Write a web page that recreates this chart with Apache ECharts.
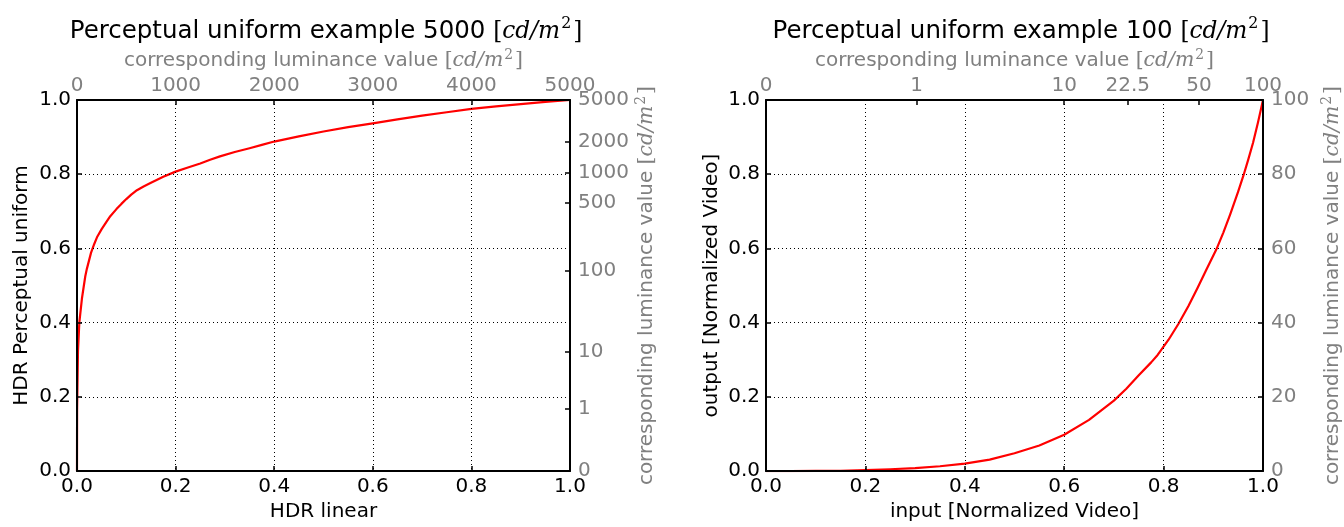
<!DOCTYPE html>
<html>
<head>
<meta charset="utf-8">
<script src="https://cdn.jsdelivr.net/npm/echarts@6/dist/echarts.min.js"></script>
<style>html,body{margin:0;padding:0;background:#fff}#c{width:1344px;height:527px}</style>
</head>
<body>
<div id="c"></div>
<script>
// ---- Data ----
const leftX = [0, 0.0002, 0.002, 0.0047, 0.01, 0.0168, 0.02, 0.0284, 0.035, 0.0405, 0.05, 0.06, 0.0675, 0.08, 0.09, 0.1, 0.11, 0.1216, 0.135, 0.15, 0.175, 0.2, 0.225, 0.25, 0.27, 0.29, 0.32, 0.35, 0.375, 0.4, 0.45, 0.5, 0.55, 0.6, 0.65, 0.7, 0.75, 0.8, 0.85, 0.9, 0.95, 1.0];
const leftY = [0, 0.165, 0.323, 0.40, 0.465, 0.525, 0.545, 0.588, 0.612, 0.630, 0.652, 0.672, 0.687, 0.706, 0.720, 0.733, 0.745, 0.757, 0.767, 0.777, 0.793, 0.807, 0.818, 0.829, 0.839, 0.848, 0.860, 0.870, 0.879, 0.888, 0.902, 0.915, 0.927, 0.937, 0.948, 0.958, 0.967, 0.976, 0.983, 0.989, 0.995, 1.0];

const rightX = [0, 0.05, 0.1, 0.15, 0.2, 0.25, 0.3, 0.35, 0.4, 0.45, 0.5, 0.55, 0.6, 0.65, 0.7, 0.725, 0.75, 0.775, 0.788, 0.81, 0.83, 0.85, 0.868, 0.885, 0.906, 0.92, 0.934, 0.95, 0.961, 0.97, 0.98, 0.99, 1.0];
const rightY = [0, 0.0001, 0.0004, 0.001, 0.0025, 0.005, 0.008, 0.013, 0.02, 0.031, 0.048, 0.069, 0.098, 0.138, 0.19, 0.222, 0.258, 0.293, 0.313, 0.354, 0.397, 0.445, 0.493, 0.54, 0.597, 0.642, 0.692, 0.753, 0.798, 0.838, 0.885, 0.94, 1.0];

// Tick labels
const leftLumLabels = ['0', '1', '10', '100', '500', '1000', '2000', '5000'];
const leftLumPos = [0, 0.167, 0.321, 0.541, 0.722, 0.805, 0.888, 1.0];
const rightLumLabels = ['0', '1', '10', '22.5', '50', '100'];
const rightLumPos = [0, 0.303, 0.6, 0.728, 0.871, 1.0];

const titles = ['Perceptual uniform example 5000', 'Perceptual uniform example 100'];
const lumName = 'corresponding luminance value';

// ---- Styling helpers ----
const FONT = 'DejaVu Sans';
const FS = 20;
const GRAY = '#808080';
const mathRich = (size, color, mf) => ({
  t: { fontFamily: FONT, fontSize: size, color: color, lineHeight: size * 1.3, verticalAlign: 'middle' },
  m: { fontFamily: 'DejaVu Serif', fontSize: size * mf, color: color, lineHeight: size * 1.3, verticalAlign: 'middle' },
  i: { fontFamily: 'DejaVu Serif', fontStyle: 'italic', fontSize: size * mf, color: color, lineHeight: size * 1.3, verticalAlign: 'middle' },
  s: { fontFamily: 'DejaVu Serif', fontSize: size * 0.68 * mf, color: color, lineHeight: size * 0.7, verticalAlign: 'top', padding: [0, 2, 0, 1] }
});
const mathText = (txt) => '{t|' + txt + ' }{m|[}{i|cd/m}{s|2}{m|]}';

function lookup(pos, labels) {
  return function (v) {
    let best = 0, bd = 1e9;
    for (let k = 0; k < pos.length; k++) { const d = Math.abs(pos[k] - v); if (d < bd) { bd = d; best = k; } }
    return labels[best];
  };
}

const axisLine = { show: true, onZero: false, lineStyle: { color: '#000', width: 2 } };
const tick = { show: true, inside: true, length: 5, lineStyle: { color: '#000', width: 1.5 } };
const grid = { show: true, lineStyle: { color: '#000', width: 1, type: [1, 3] } };

function baseAxis(extra) {
  return Object.assign({
    type: 'value', z: 5,
    axisLine: axisLine, axisTick: tick,
    splitLine: { show: false },
    nameLocation: 'middle'
  }, extra);
}

const blackLabel = (margin, fmt) => ({ color: '#000', fontFamily: FONT, fontSize: FS, margin: margin, formatter: fmt });
const grayLabel = (margin, fmt, extra) => Object.assign({ color: GRAY, fontFamily: FONT, fontSize: FS, margin: margin, formatter: fmt }, extra || {});
const fix1 = v => v.toFixed(1);
const blackName = { fontFamily: FONT, fontSize: FS, color: '#000' };
const grayName = { fontFamily: FONT, fontSize: FS, color: GRAY, rich: mathRich(FS, GRAY, 1.02) };
const titleStyle = { fontFamily: FONT, fontSize: 24.5, fontWeight: 'normal', color: '#000', rich: mathRich(24.5, '#000', 0.95) };

const option = {
  animation: false,
  backgroundColor: '#fff',
  title: [
    { text: mathText(titles[0]), left: 321, top: 11, textAlign: 'center', textStyle: titleStyle },
    { text: mathText(titles[1]), left: 1016, top: 11, textAlign: 'center', textStyle: titleStyle }
  ],
  grid: [
    { left: 77, top: 100, width: 493, height: 372 },
    { left: 766, top: 100, width: 502, height: 372 }
  ],
  xAxis: [
    baseAxis({ gridIndex: 0, position: 'bottom', min: 0, max: 1, interval: 0.2,
      axisLabel: blackLabel(6, fix1), splitLine: grid,
      name: 'HDR linear', nameGap: 29, nameTextStyle: blackName }),
    baseAxis({ gridIndex: 0, position: 'top', min: 0, max: 5000, interval: 1000,
      axisLabel: grayLabel(4, v => String(v)),
      name: mathText(lumName), nameGap: 23, nameTextStyle: grayName }),
    baseAxis({ gridIndex: 1, position: 'bottom', min: 0, max: 1, interval: 0.2,
      axisLabel: blackLabel(6, fix1), splitLine: grid,
      name: 'input [Normalized Video]', nameGap: 29, nameTextStyle: blackName }),
    baseAxis({ gridIndex: 1, position: 'top', min: 0, max: 1,
      axisTick: Object.assign({}, tick, { customValues: rightLumPos }),
      axisLabel: grayLabel(4, lookup(rightLumPos, rightLumLabels), { customValues: rightLumPos }),
      name: mathText(lumName), nameGap: 23, nameTextStyle: grayName })
  ],
  yAxis: [
    baseAxis({ gridIndex: 0, position: 'left', min: 0, max: 1, interval: 0.2,
      axisLabel: blackLabel(6, fix1), splitLine: grid,
      name: 'HDR Perceptual uniform', nameGap: 45, nameRotate: 90, nameTextStyle: blackName }),
    baseAxis({ gridIndex: 0, position: 'right', min: 0, max: 1,
      axisTick: Object.assign({}, tick, { customValues: leftLumPos }),
      axisLabel: grayLabel(8, lookup(leftLumPos, leftLumLabels), { customValues: leftLumPos }),
      name: mathText(lumName), nameGap: 64, nameRotate: 90, nameTextStyle: grayName }),
    baseAxis({ gridIndex: 1, position: 'left', min: 0, max: 1, interval: 0.2,
      axisLabel: blackLabel(6, fix1), splitLine: grid,
      name: 'output [Normalized Video]', nameGap: 44, nameRotate: 90, nameTextStyle: blackName }),
    baseAxis({ gridIndex: 1, position: 'right', min: 0, max: 100, interval: 20,
      axisLabel: grayLabel(8, v => String(v)),
      name: mathText(lumName), nameGap: 57, nameRotate: 90, nameTextStyle: grayName })
  ],
  series: [
    { type: 'line', xAxisIndex: 0, yAxisIndex: 0, showSymbol: false, symbol: 'none', z: 2,
      smooth: false,
      lineStyle: { color: '#ff0000', width: 2.2, join: 'round' },
      data: leftX.map((x, i) => [x, leftY[i]]) },
    { type: 'line', xAxisIndex: 2, yAxisIndex: 2, showSymbol: false, symbol: 'none', z: 2,
      smooth: false,
      lineStyle: { color: '#ff0000', width: 2.2, join: 'round' },
      data: rightX.map((x, i) => [x, rightY[i]]) }
  ]
};

const chart = echarts.init(document.getElementById('c'), null, { renderer: 'canvas' });
chart.setOption(option);
</script>
</body>
</html>
